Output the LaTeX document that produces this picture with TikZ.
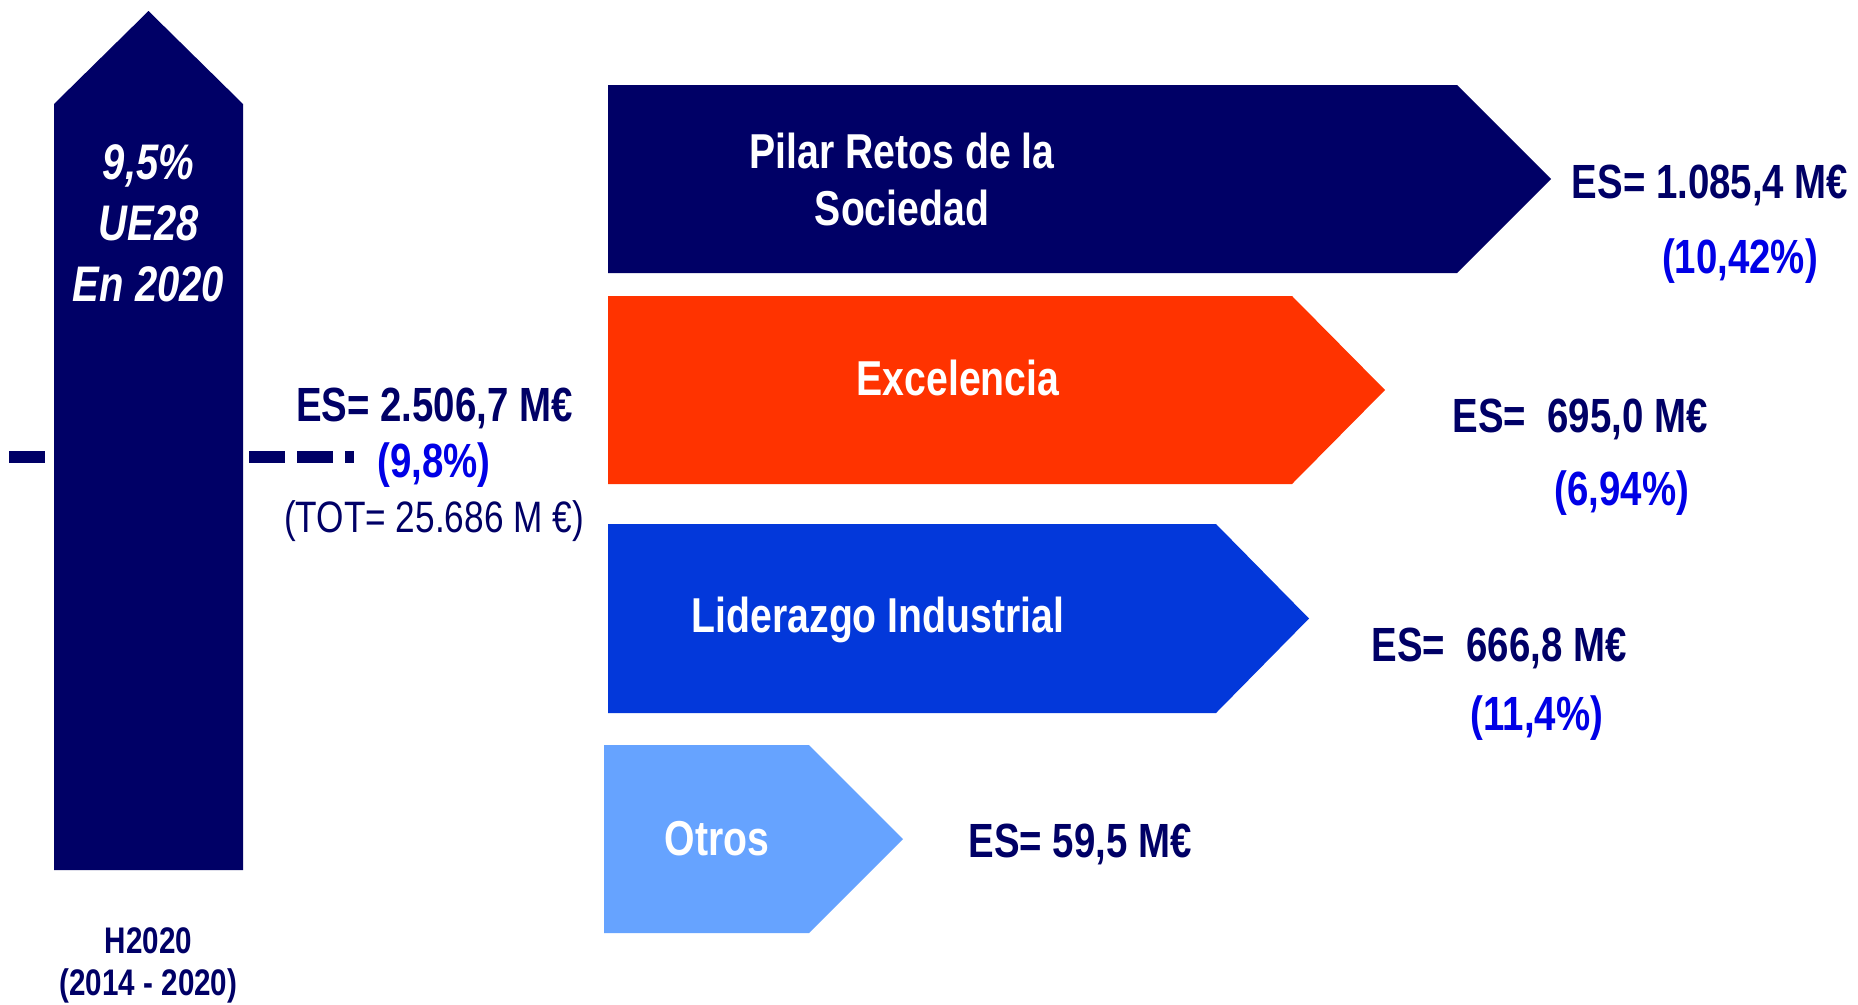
\documentclass[tikz,border=0pt]{standalone}
\usepackage{fontspec}
\setmainfont[FakeStretch=0.8]{Liberation Sans}
\definecolor{navy}{RGB}{0,0,102}
\definecolor{pctblue}{RGB}{0,0,230}
\definecolor{orng}{RGB}{255,51,0}
\definecolor{midblue}{RGB}{3,56,218}
\definecolor{lightblue}{RGB}{102,163,255}
\begin{document}
\begin{tikzpicture}[x=1pt,y=-1pt,
  val/.style={font=\fontsize{48}{57}\selectfont\bfseries, text=navy, anchor=base, inner sep=0pt},
  pct/.style={font=\fontsize{48}{57}\selectfont\bfseries, text=pctblue, anchor=base, inner sep=0pt},
  bartext/.style={font=\fontsize{49}{57}\selectfont\bfseries, text=white, anchor=base, inner sep=0pt, align=center},
  dashline/.style={line width=12pt, dash pattern=on 36pt off 12pt, navy}]
\useasboundingbox (0,0) rectangle (1858,1004);
\fill[white] (0,0) rectangle (1858,1004);
% dashed level line
\coordinate (dl) at (9,456.5);
\coordinate (dr) at (354,456.5);
\draw[dashline] (dl) -- (dr);
% big up arrow
\fill[navy] (54,870) -- (54,104) -- (148.5,11) -- (243,104) -- (243,870) -- cycle;
\node[font=\fontsize{50}{61}\selectfont\bfseries\itshape, text=white, anchor=base, inner sep=0pt, align=center] (eu) at (148.5,301) {9,5\%\\UE28\\En 2020};
\node[font=\fontsize{37}{42}\selectfont\bfseries, text=navy, anchor=base, inner sep=0pt, align=center] (h2020) at (148.5,995) {H2020\\(2014 - 2020)};
% total
\node[val] (estot) at (434.5,421) {ES= 2.506,7 M€};
\node[pct] (pcttot) at (434,477) {(9,8\%)};
\node[font=\fontsize{44}{50}\selectfont, text=navy, anchor=base, inner sep=0pt] (tot) at (434,532) {(TOT= 25.686 M €)};
% bars
\fill[navy] (608,85) -- (1457,85) -- (1551,179) -- (1457,273) -- (608,273) -- cycle;
\fill[orng] (608,296) -- (1292,296) -- (1385,390) -- (1292,484) -- (608,484) -- cycle;
\fill[midblue] (608,524) -- (1216,524) -- (1309,618.5) -- (1216,713) -- (608,713) -- cycle;
\fill[lightblue] (604,745) -- (809,745) -- (903,839) -- (809,933) -- (604,933) -- cycle;
\node[bartext] (pilar) at (902,225) {Pilar Retos de la\\Sociedad};
\node[bartext] (exc) at (958,395) {Excelencia};
\node[bartext] (lid) at (878,632) {Liderazgo Industrial};
\node[bartext] (otros) at (717,855) {Otros};
% values
\node[val] (es1) at (1710,198) {ES= 1.085,4 M€};
\node[pct] (p1) at (1740,273) {(10,42\%)};
\node[val] (es2) at (1580,432) {ES=\ \ 695,0 M€};
\node[pct] (p2) at (1622,505) {(6,94\%)};
\node[val] (es3) at (1499,661) {ES=\ \ 666,8 M€};
\node[pct] (p3) at (1537,730) {(11,4\%)};
\node[val] (es4) at (1080,857) {ES= 59,5 M€};
\end{tikzpicture}
\end{document}
